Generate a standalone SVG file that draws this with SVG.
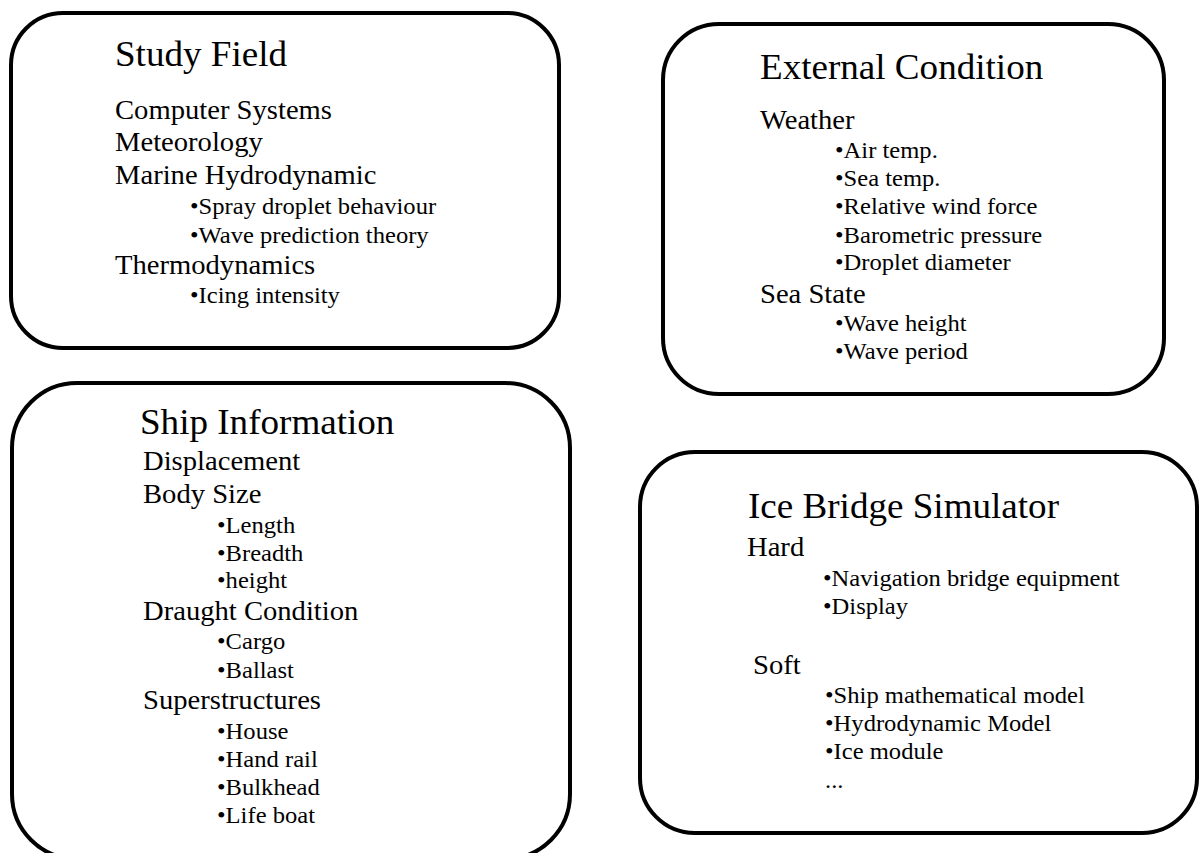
<svg xmlns="http://www.w3.org/2000/svg" width="1201" height="853" viewBox="0 0 1201 853">
<style>
.box{fill:#fff;stroke:#000;stroke-width:4}
text{font-family:"Liberation Serif","Times New Roman",serif;fill:#000}
.t{font-size:35px}
.m{font-size:27px}
.s{font-size:23.2px}
</style>
<rect width="1201" height="853" fill="#fff"/>
<g id="study-field">
<rect class="box" x="11" y="13" width="548" height="335" rx="52"/>
<text class="t" transform="matrix(1.06 0 0 1 115 66)">Study Field</text>
<text class="m" transform="matrix(1.06 0 0 1 115 119)">Computer Systems</text>
<text class="m" transform="matrix(1.06 0 0 1 115 151)">Meteorology</text>
<text class="m" transform="matrix(1.06 0 0 1 115 184)">Marine Hydrodynamic</text>
<text class="s" transform="matrix(1.06 0 0 1 190 214)">•Spray droplet behaviour</text>
<text class="s" transform="matrix(1.06 0 0 1 190 243)">•Wave prediction theory</text>
<text class="m" transform="matrix(1.06 0 0 1 115 274)">Thermodynamics</text>
<text class="s" transform="matrix(1.06 0 0 1 190 303)">•Icing intensity</text>
</g>
<g id="external-condition">
<rect class="box" x="663" y="24" width="501" height="370" rx="56"/>
<text class="t" transform="matrix(1.06 0 0 1 760 79)">External Condition</text>
<text class="m" transform="matrix(1.06 0 0 1 760 129)">Weather</text>
<text class="s" transform="matrix(1.06 0 0 1 835 158)">•Air temp.</text>
<text class="s" transform="matrix(1.06 0 0 1 835 186)">•Sea temp.</text>
<text class="s" transform="matrix(1.06 0 0 1 835 214)">•Relative wind force</text>
<text class="s" transform="matrix(1.06 0 0 1 835 243)">•Barometric pressure</text>
<text class="s" transform="matrix(1.06 0 0 1 835 270)">•Droplet diameter</text>
<text class="m" transform="matrix(1.06 0 0 1 760 303)">Sea State</text>
<text class="s" transform="matrix(1.06 0 0 1 835 331)">•Wave height</text>
<text class="s" transform="matrix(1.06 0 0 1 835 359)">•Wave period</text>
</g>
<g id="ship-information">
<rect class="box" x="12" y="383" width="558" height="476" rx="65"/>
<text class="t" transform="matrix(1.06 0 0 1 140 434)">Ship Information</text>
<text class="m" transform="matrix(1.06 0 0 1 143 470)">Displacement</text>
<text class="m" transform="matrix(1.06 0 0 1 143 503)">Body Size</text>
<text class="s" transform="matrix(1.06 0 0 1 217 533)">•Length</text>
<text class="s" transform="matrix(1.06 0 0 1 217 561)">•Breadth</text>
<text class="s" transform="matrix(1.06 0 0 1 217 588)">•height</text>
<text class="m" transform="matrix(1.06 0 0 1 143 620)">Draught Condition</text>
<text class="s" transform="matrix(1.06 0 0 1 217 649)">•Cargo</text>
<text class="s" transform="matrix(1.06 0 0 1 217 678)">•Ballast</text>
<text class="m" transform="matrix(1.06 0 0 1 143 709)">Superstructures</text>
<text class="s" transform="matrix(1.06 0 0 1 217 739)">•House</text>
<text class="s" transform="matrix(1.06 0 0 1 217 767)">•Hand rail</text>
<text class="s" transform="matrix(1.06 0 0 1 217 795)">•Bulkhead</text>
<text class="s" transform="matrix(1.06 0 0 1 217 823)">•Life boat</text>
</g>
<g id="ice-bridge-simulator">
<rect class="box" x="640" y="452" width="557" height="381" rx="55"/>
<text class="t" transform="matrix(1.06 0 0 1 748 518)">Ice Bridge Simulator</text>
<text class="m" transform="matrix(1.06 0 0 1 747 556)">Hard</text>
<text class="s" transform="matrix(1.06 0 0 1 823 586)">•Navigation bridge equipment</text>
<text class="s" transform="matrix(1.06 0 0 1 823 614)">•Display</text>
<text class="m" transform="matrix(1.06 0 0 1 753 674)">Soft</text>
<text class="s" transform="matrix(1.06 0 0 1 825 703)">•Ship mathematical model</text>
<text class="s" transform="matrix(1.06 0 0 1 825 731)">•Hydrodynamic Model</text>
<text class="s" transform="matrix(1.06 0 0 1 825 759)">•Ice module</text>
<text class="s" transform="matrix(1.06 0 0 1 825 788)">...</text>
</g>
</svg>
